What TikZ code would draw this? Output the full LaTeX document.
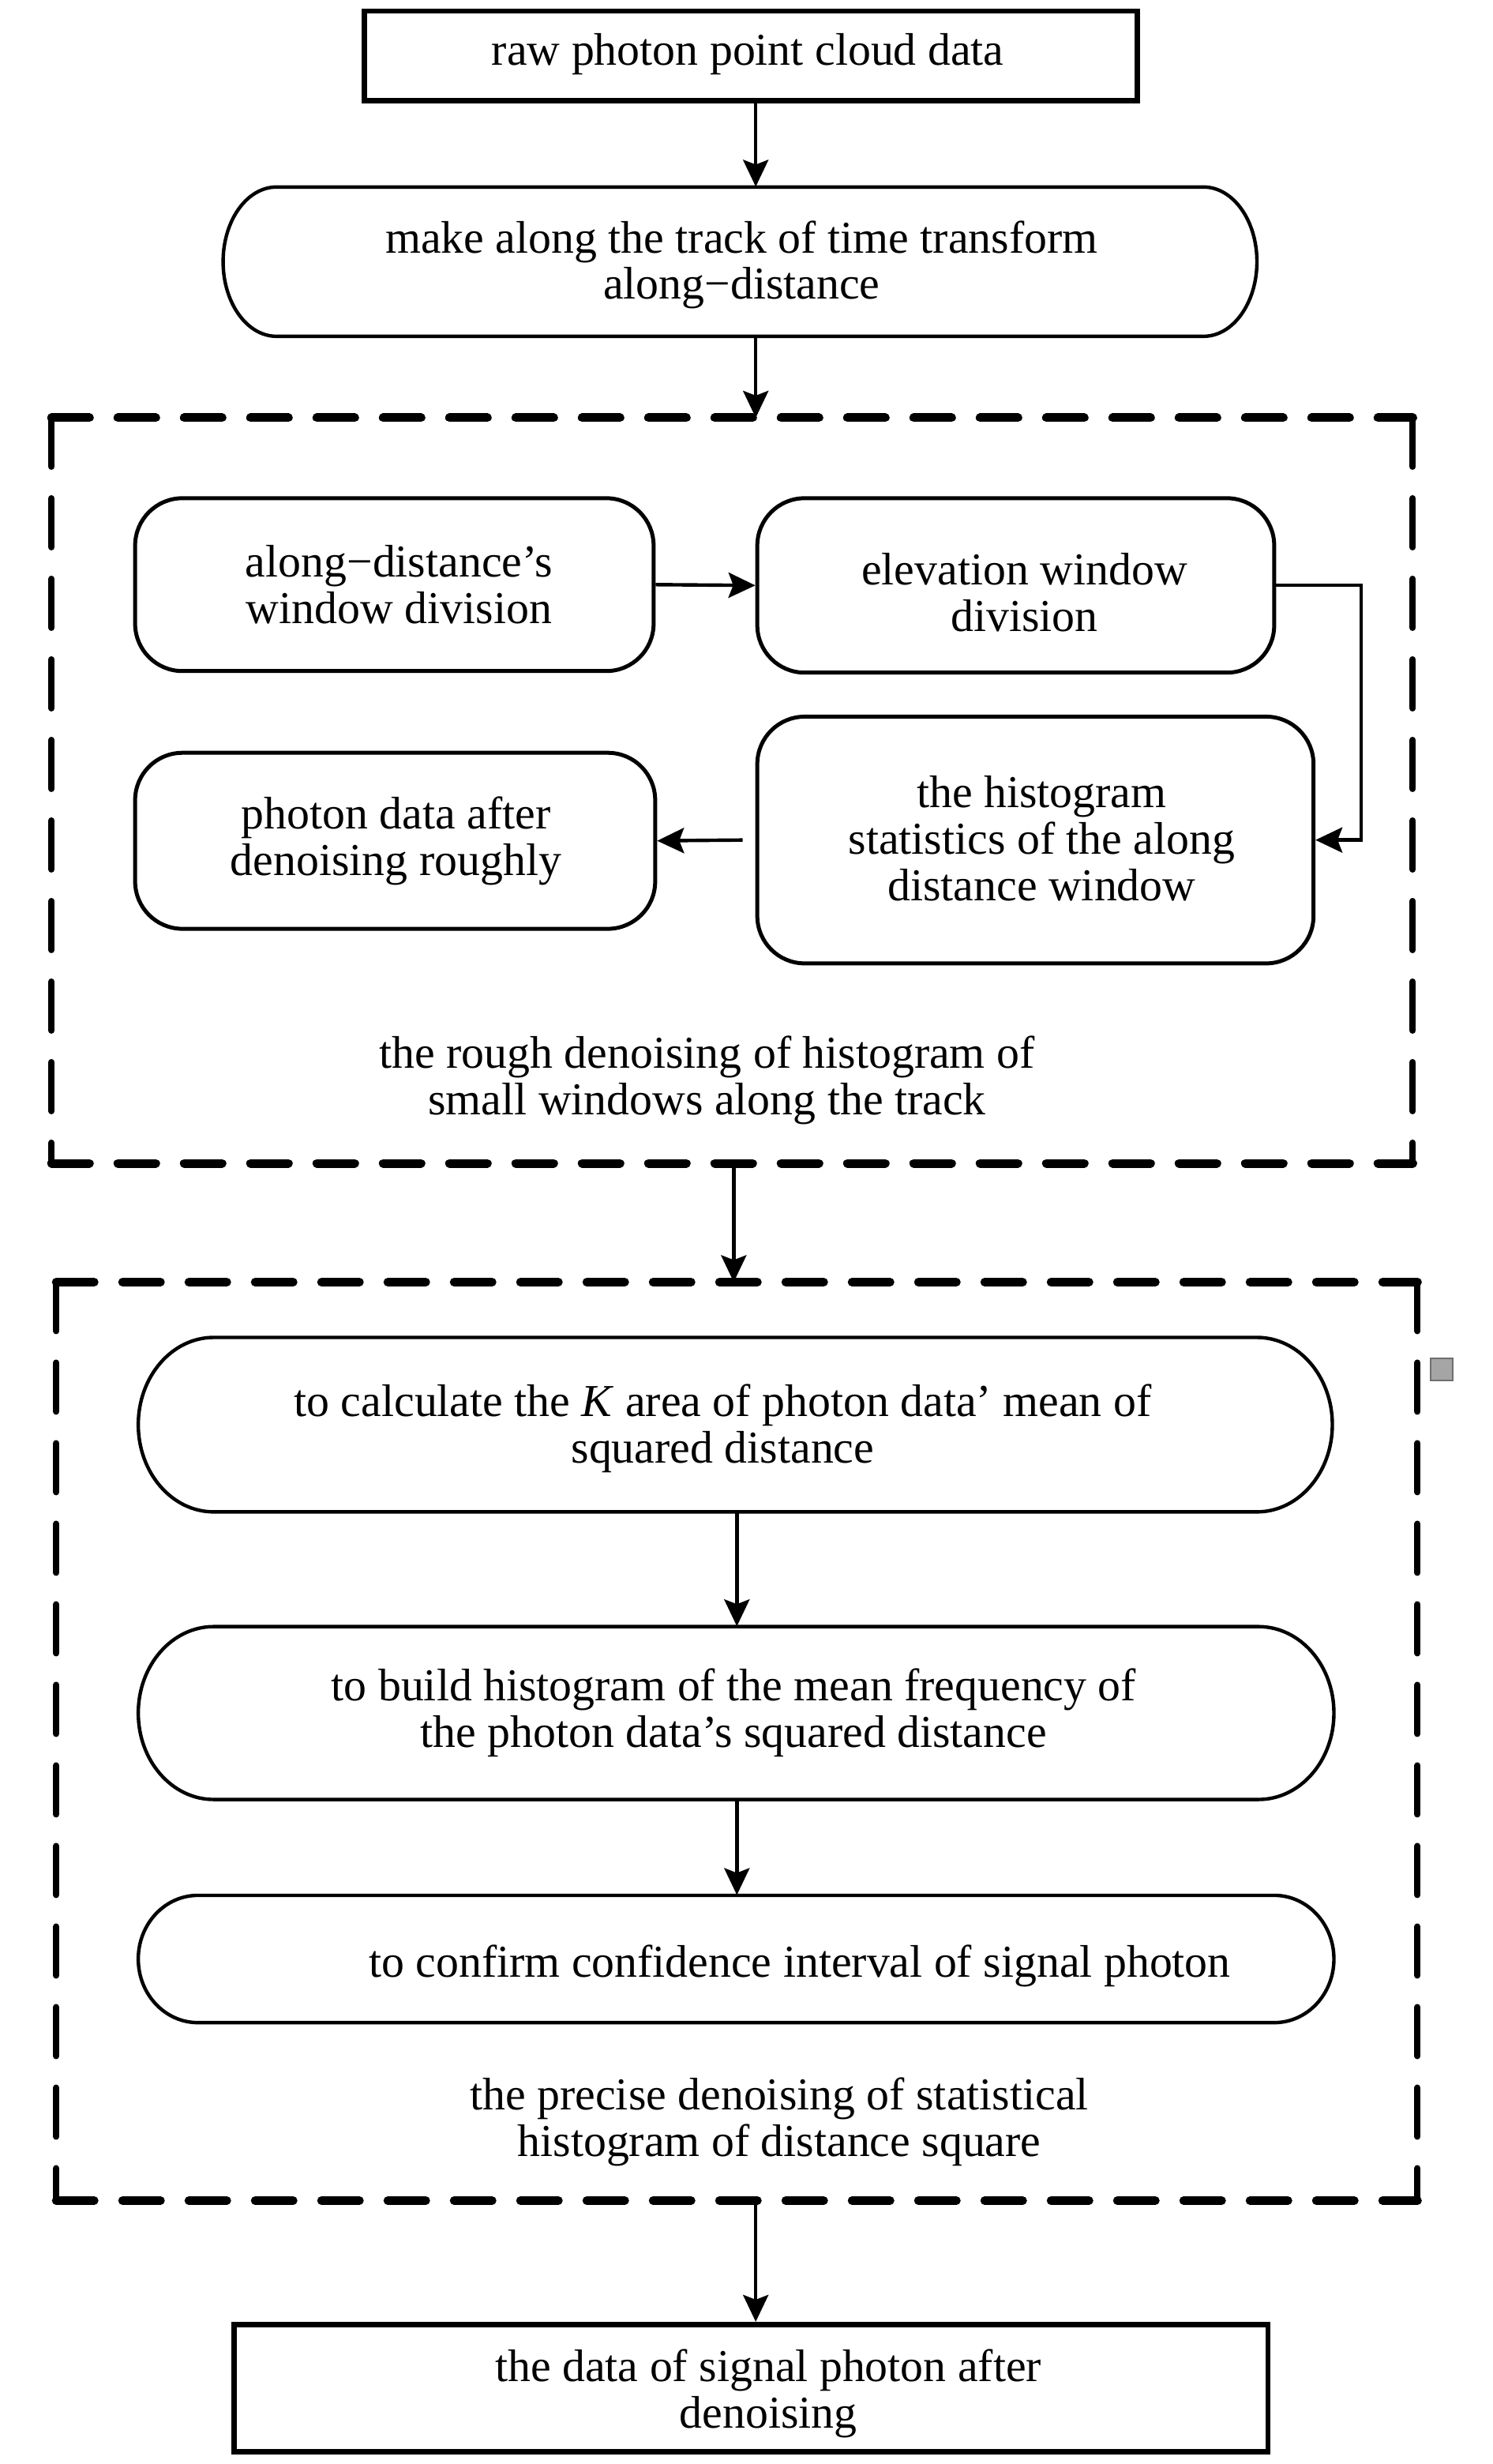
\documentclass[tikz,border=0pt]{standalone}
\usepackage{fontspec}
\setmainfont{Liberation Serif}
\usetikzlibrary{arrows.meta,calc}
\definecolor{sqfill}{RGB}{165,165,165}
\definecolor{sqdraw}{RGB}{110,110,110}
\tikzset{
  txt/.style={align=center,inner sep=0pt,font=\fontsize{28.9}{29.4}\selectfont},
  rbox/.style={draw,line width=2.5pt,rounded corners=30pt,inner sep=0pt},
  sqbox/.style={draw,line width=3.3pt,inner sep=0pt},
  shapebox/.style={inner sep=0pt,draw=none},
  outline/.style={line width=2.2pt},
  arr/.style={line width=2.2pt,-{Stealth[length=17pt,width=16pt,inset=3pt]}},
  dashh/.style={line width=5.5pt,line cap=round,dash pattern=on 24pt off 18pt},
  dashv/.style={line width=4pt,line cap=round,dash pattern=on 31pt off 20pt},
}
% name, style, x1, y1, x2, y2  (y measured downwards)
\newcommand\boxat[6]{\node[#2,minimum width={(#5-#3)*0.995pt},minimum height={(#6-#4)*0.995pt}] (#1) at ({(#3+#5)/2},{-(#4+#6)/2}) {};}
% name, x1, y1, x2, y2, rx
\newcommand\stadium[6]{%
  \boxat{#1}{shapebox}{#2}{#3}{#4}{#5}
  \draw[outline] ({#2+#6},-#3) -- ({#4-#6},-#3)
    arc[start angle=90,end angle=-90,x radius=#6,y radius={(#5-#3)/2}]
    -- ({#2+#6},-#5)
    arc[start angle=270,end angle=90,x radius=#6,y radius={(#5-#3)/2}] -- cycle;}
\newcommand\dashframe[1]{%
  \draw[dashh] (#1.north west) -- (#1.north east);
  \draw[dashh] (#1.south west) -- (#1.south east);
  \draw[dashv] (#1.north west) -- (#1.south west);
  \draw[dashv] (#1.north east) -- (#1.south east);}
\begin{document}
\begin{tikzpicture}[x=1pt,y=1pt]
\fill[white] (0,0) rectangle (945,-1560);
\useasboundingbox (0,0) rectangle (945,-1560);
\begin{scope}[x=0.995pt,y=0.995pt]
\coordinate (ca) at (481,0);
\coordinate (cb) at (467,0);
\coordinate (cc) at (469,0);

% boxes
\boxat{b1}{sqbox}{232}{7}{724}{64}
\stadium{b2}{142}{119}{800}{214}{34}
\boxat{d1}{shapebox}{33}{266}{899}{740}
\dashframe{d1}
\boxat{bA}{rbox}{86}{317}{416}{427}
\boxat{bB}{rbox}{482}{317}{811}{428}
\boxat{bC}{rbox}{482}{456}{836}{613}
\boxat{bD}{rbox}{86}{479}{417}{591}
\boxat{d2}{shapebox}{36}{816}{902}{1400}
\dashframe{d2}
\stadium{bE}{88}{851}{848}{962}{48}
\stadium{bF}{88}{1035}{849}{1145}{48}
\stadium{bG}{88}{1206}{849}{1287}{38}
\boxat{bH}{sqbox}{149}{1479}{807}{1560}
\node[draw=sqdraw,fill=sqfill,line width=1.2pt,minimum size=14pt,inner sep=0pt] (sq) at (917.5,-871.5) {};

% texts
\node[txt] (t1) at (476,-34.5) {raw photon point cloud data};
\node[txt] (t2) at (472,-168.5) {make along the track of time transform\\along\textminus distance};
\node[txt] (tA) at (254,-372) {along\textminus distance’s\\window division};
\node[txt] (tB) at (652,-377) {elevation window\\division};
\node[txt] (tC) at (663,-533.5) {the histogram\\statistics of the along\\distance window};
\node[txt] (tD) at (252,-535) {photon data after\\denoising roughly};
\node[txt] (L1) at (450,-687.5) {the rough denoising of histogram of\\small windows along the track};
\node[txt] (tE) at (460,-909) {to calculate the \textit{K} area of photon data’ mean of\\squared distance};
\node[txt] (tF) at (467,-1090) {to build histogram of the mean frequency of\\the photon data’s squared distance};
\node[txt] (tG) at (509,-1251) {to confirm confidence interval of signal photon};
\node[txt] (L2) at (496,-1350) {the precise denoising of statistical\\histogram of distance square};
\node[txt] (tH) at (489,-1523) {the data of signal photon after\\denoising};

% connectors
\draw[arr] (b1.south -| ca) -- (b2.north -| ca);
\draw[arr] (b2.south -| ca) -- (d1.north -| ca);
\draw[arr] (bA.east) -- (bB.west);
\draw[arr] (bB.east) -- ++(54,0) |- (bC.east);
\draw[arr] ([xshift=-8pt]bC.west) -- (bD.east);
\draw[arr] (d1.south -| cb) -- (d2.north -| cb);
\draw[arr] (bE.south -| cc) -- (bF.north -| cc);
\draw[arr] (bF.south -| cc) -- (bG.north -| cc);
\draw[arr] (d2.south -| ca) -- (bH.north -| ca);
\end{scope}
\end{tikzpicture}
\end{document}
